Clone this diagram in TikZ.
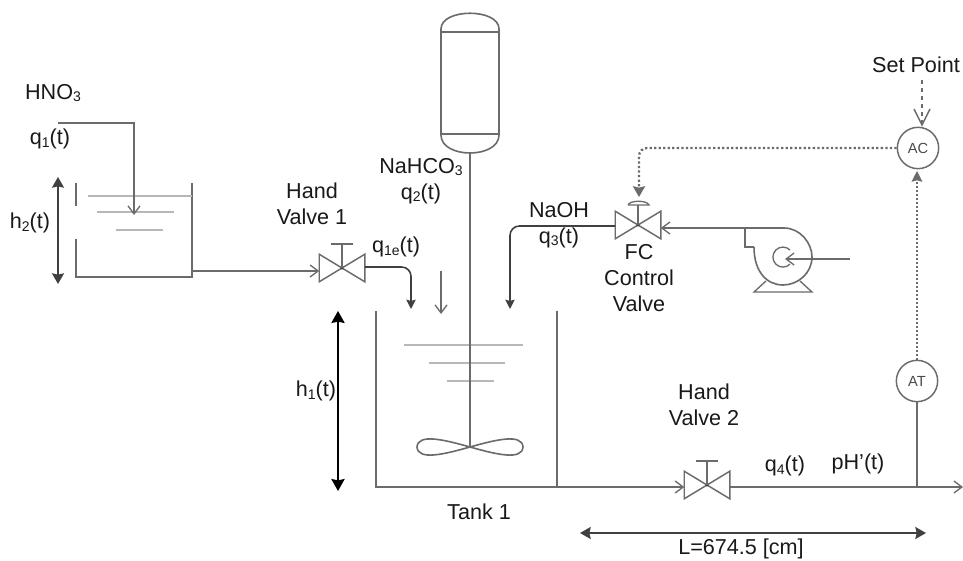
\documentclass[tikz,border=0pt]{standalone}
\usepackage{fontspec}
\setmainfont{Liberation Sans}
\usetikzlibrary{arrows.meta}
\definecolor{pipe}{gray}{0.42}
\definecolor{lvl}{gray}{0.72}
\definecolor{ink}{gray}{0.1}
\newcommand{\subs}[1]{\raisebox{-2pt}{\fontsize{10.5}{10.5}\selectfont #1}}
\tikzset{
  pipeline/.style={draw=pipe,line width=1.2pt},
  level/.style={draw=lvl,line width=1.2pt},
  openarrow/.style={pipeline,-{Straight Barb[length=6pt,width=9pt,line width=1pt]}},
  solidarrow/.style={pipeline,draw=pipe!60!black,-{Stealth[length=7pt,width=7pt,inset=1pt]}},
  dimarrow/.style={draw=pipe!60!black,line width=1.5pt,{Stealth[length=8pt,width=9pt,inset=1pt]}-{Stealth[length=8pt,width=9pt,inset=1pt]}},
  blackarrow/.style={draw=black,line width=1pt,{Stealth[length=9pt,width=10pt,inset=1pt]}-{Stealth[length=9pt,width=10pt,inset=1pt]}},
  lbl/.style={font=\fontsize{16.2}{19.5}\selectfont,text=ink,align=center,inner sep=0pt},
  instrument/.style={draw=pipe,line width=1.1pt,circle,minimum size=31pt,inner sep=0pt,font=\fontsize{11}{11}\selectfont,text=pipe!70!black},
  valvebox/.style={inner sep=0pt,minimum width=33.75pt,minimum height=20.25pt},
  dotline/.style={draw=pipe,line width=1.7pt,dash pattern=on 1.7pt off 1.7pt},
  fineline/.style={draw=pipe,line width=1.2pt,dash pattern=on 1.3pt off 1.7pt},
}
\newcommand{\vlv}[3]{%
  \node[valvebox] (#1) at (#2,#3) {};
  \draw[pipeline,line width=1.1pt] (#1.north west) -- (#1.south east) -- (#1.north east) -- (#1.south west) -- cycle;
  \fill[pipe!60!black] (#1.center) circle (1.2pt);
}
\begin{document}
\begin{tikzpicture}[x=0.75pt,y=-0.75pt]
\useasboundingbox (0,0) rectangle (963,560);
\fill[white] (0,0) rectangle (963,560);

% head vessel
\draw[pipeline] (441,135) -- (441,29) .. controls (441,8) and (499,8) .. (499,29) -- (499,135)
  .. controls (499,159) and (441,159) .. (441,135);
\draw[pipeline] (442,32) -- (498,32);
\draw[pipeline] (442,134) -- (498,134);

% small tank
\draw[pipeline] (76,183) -- (76,206);
\draw[pipeline] (76,239) -- (76,277) -- (192,277) -- (192,183);
\draw[level] (88,196) -- (192,196);
\draw[level] (97,212) -- (174,212);
\draw[level] (116,230) -- (163,230);
\coordinate (hin) at (58,123);
\coordinate (hturn) at (134,123);
\coordinate (hend) at (134,215);
\draw[openarrow] (hin) -- (hturn) -- (hend);
\coordinate (h2a) at (58,177);
\coordinate (h2b) at (58,284);
\draw[dimarrow] (h2a) -- (h2b);

% hand valve 1
\vlv{vone}{342}{268}
\coordinate (vonetop) at (342,244);
\draw[pipeline] (vone.center) -- (vonetop);
\draw[pipeline] (331,244) -- (353,244);
\coordinate (tout) at (192,271);
\draw[openarrow] (tout) -- (tout -| vone.west);
\coordinate (qone) at (411,309);
\draw[solidarrow,rounded corners=7pt] (vone.east) ++(0,-1) -- (411,267) -- (qone);

% main tank
\draw[pipeline] (376,311) -- (376,487) -- (557,487);
\draw[pipeline] (557,311) -- (557,487);
\draw[level] (404,345) -- (523,345);
\draw[level] (429,363) -- (505,363);
\draw[level] (447,381) -- (494,381);
\coordinate (hub) at (470,447);
\draw[pipeline,line width=1.5pt] (470,153) -- (hub);
\draw[pipeline] (hub) .. controls (445,440) and (418,433) .. (417,447)
  .. controls (418,461) and (445,454) .. (hub)
  .. controls (495,440) and (522,433) .. (523,447)
  .. controls (522,461) and (495,454) .. (hub);
\coordinate (qtwoa) at (441,271);
\coordinate (qtwob) at (441,314);
\draw[openarrow] (qtwoa) -- (qtwob);
\coordinate (honea) at (338,311);
\coordinate (honeb) at (338,491);
\draw[blackarrow] (honea) -- (honeb);

% FC valve
\vlv{vfc}{638}{225}
\draw[pipeline] (vfc.center) -- (638,205);
\draw[pipeline,line width=1pt] (628,205) -- (649,205) .. controls (647,200) and (630,200) .. (628,205);
\coordinate (qthree) at (510,309);
\draw[solidarrow,rounded corners=7pt] (vfc.west) ++(0,1) -- (510,226) -- (qthree);

% pump
\coordinate (pout) at (745,228);
\draw[openarrow] (pout) -- (pout -| vfc.east);
\draw[pipeline] (pout) -- (745,247) -- (754,247);
\draw[pipeline] (pout) -- (784,228) .. controls (800,228) and (812,243) .. (812,257)
  .. controls (812,273) and (798,285) .. (783,285)
  .. controls (767,285) and (754,272) .. (754,247);
\draw[pipeline,line width=1pt] (766,281) -- (754,292) -- (812,292) -- (800,281);
\draw[pipeline,line width=1pt] (790,250) arc[start angle=45,end angle=315,radius=7.5pt];
\coordinate (pin) at (850,259);
\coordinate (peye) at (785,259);
\draw[openarrow] (pin) -- (peye);

% hand valve 2 and outlet
\vlv{vtwo}{707}{485}
\draw[pipeline] (vtwo.center) -- (707,461);
\draw[pipeline] (696,461) -- (718,461);
\coordinate (lineout) at (557,487);
\draw[openarrow] (lineout) -- (lineout -| vtwo.west);
\coordinate (endp) at (963,487);
\draw[openarrow] (vtwo.east |- endp) -- (endp);

% instruments
\node[instrument] (ac) at (918,148) {AC};
\node[instrument] (at) at (917,381) {AT};
\coordinate (tap) at (917,487);
\draw[pipeline] (at.south) -- (tap);
\draw[fineline,-{Stealth[length=8pt,width=8pt,inset=1pt]}] (at.north) -- (917,171);
\coordinate (sp) at (922,80);
\coordinate (sptip) at (922,125);
\draw[pipeline,dashed,line width=1pt] (sp) -- (sptip);
\draw[pipeline,line width=1.1pt] (914,109) -- (sptip) -- (930,109);
\draw[dotline,rounded corners=6pt,-{Stealth[length=8pt,width=9pt,inset=1pt]}] (ac.west) -- (639,148) -- (639,197);

% length
\coordinate (la) at (580,533);
\coordinate (lb) at (926,533);
\draw[dimarrow] (la) -- (lb);

% labels
\node[lbl] (thno) at (53,93) {HNO\subs{3}};
\node[lbl] (tqa) at (50,139) {q\subs{1}(t)};
\node[lbl] (thb) at (30,223) {h\subs{2}(t)};
\node[lbl] (thv) at (312,204) {Hand\\Valve 1};
\node[lbl] (tqe) at (396,247) {q\subs{1e}(t)};
\node[lbl] (tnah) at (421,181) {NaHCO\subs{3}\\q\subs{2}(t)};
\node[lbl] (tnaoh) at (559,225) {NaOH\\q\subs{3}(t)};
\node[lbl] (tfc) at (639,278) {FC\\Control\\Valve};
\node[lbl] (tset) at (916,65) {Set Point};
\node[lbl] (tha) at (316,391) {h\subs{1}(t)};
\node[lbl] (thvb) at (704,405) {Hand\\Valve 2};
\node[lbl] (tqd) at (785,466) {q\subs{4}(t)};
\node[lbl] (tph) at (858,464) {pH’(t)};
\node[lbl] (ttank) at (479,512) {Tank 1};
\node[lbl] (tl) at (741,549) {L=674.5 [cm]};
\end{tikzpicture}
\end{document}
